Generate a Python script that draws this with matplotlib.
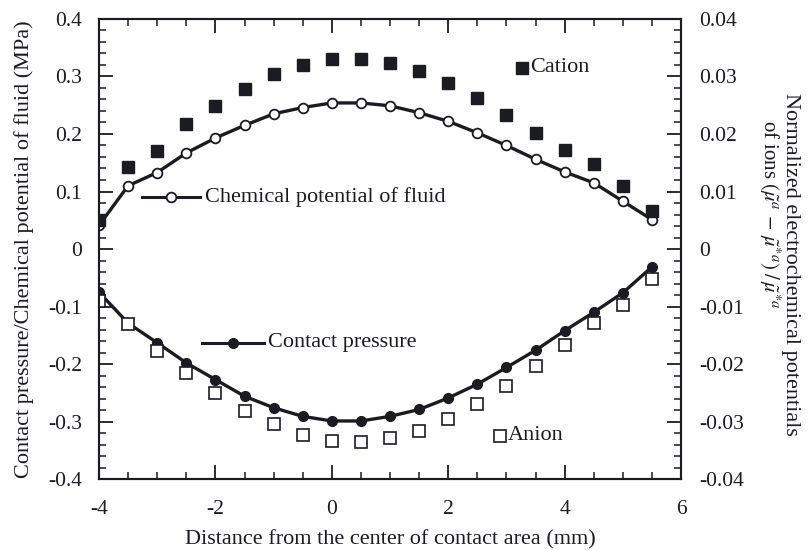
import numpy as np
import matplotlib
matplotlib.use("Agg")
import matplotlib.pyplot as plt
from matplotlib.ticker import MultipleLocator, FixedLocator

plt.rcParams["font.family"] = ["Liberation Serif", "DejaVu Serif"]
plt.rcParams["mathtext.fontset"] = "stix"
plt.rcParams["axes.unicode_minus"] = False

# -----------------------------
# Data
# -----------------------------
x = [-4, -3.5, -3, -2.5, -2, -1.5, -1, -0.5, 0, 0.5,
     1, 1.5, 2, 2.5, 3, 3.5, 4, 4.5, 5, 5.5]

# left axis (MPa)
chem_potential = [0.041, 0.110, 0.133, 0.167, 0.193, 0.215, 0.235, 0.246, 0.254, 0.254,
                  0.249, 0.237, 0.222, 0.202, 0.180, 0.156, 0.134, 0.115, 0.083, 0.051]
contact_pressure = [-0.075, -0.129, -0.163, -0.198, -0.227, -0.256, -0.276, -0.291, -0.299, -0.299,
                    -0.291, -0.279, -0.259, -0.235, -0.206, -0.176, -0.142, -0.110, -0.076, -0.031]

# right axis (normalized)
cation = [0.0051, 0.0142, 0.0170, 0.0217, 0.0249, 0.0278, 0.0305, 0.0320, 0.0330, 0.0330,
          0.0324, 0.0309, 0.0289, 0.0263, 0.0233, 0.0202, 0.0173, 0.0147, 0.0109, 0.0066]
anion = [-0.0091, -0.0130, -0.0178, -0.0215, -0.0250, -0.0282, -0.0305, -0.0324, -0.0333, -0.0335,
         -0.0328, -0.0316, -0.0295, -0.0269, -0.0238, -0.0203, -0.0167, -0.0128, -0.0097, -0.0052]

left_ticks = [0.4, 0.3, 0.2, 0.1, 0, -0.1, -0.2, -0.3, -0.4]
left_labels = ["0.4", "0.3", "0.2", "0.1", "0", "-0.1", "-0.2", "-0.3", "-0.4"]
right_ticks = [0.04, 0.03, 0.02, 0.01, 0, -0.01, -0.02, -0.03, -0.04]
right_labels = ["0.04", "0.03", "0.02", "0.01", "0", "-0.01", "-0.02", "-0.03", "-0.04"]
x_ticks = [-4, -2, 0, 2, 4, 6]
x_labels = ["-4", "-2", "0", "2", "4", "6"]

ink = "#1b1b22"
fs = 16

# -----------------------------
# Plot
# -----------------------------
fig = plt.figure(figsize=(8.08, 5.5), dpi=100)
ax = fig.add_axes([0.1225, 0.129, 0.7205, 0.8365])
ax2 = ax.twinx()

ax.plot(x, chem_potential, "-", color=ink, lw=2.4, marker="o", ms=7,
        mfc="white", mec=ink, mew=1.3, zorder=3)
ax.plot(x, contact_pressure, "-", color=ink, lw=2.4, marker="o", ms=7,
        mfc=ink, mec=ink, zorder=3)

ax2.plot(x, cation, ls="none", marker="s", ms=8, mfc=ink, mec=ink)
ax2.plot(x, anion, ls="none", marker="s", ms=8, mfc="white", mec=ink, mew=1.2)

ax.set_xlim(-4, 6)
ax.set_ylim(-0.4, 0.4)
ax2.set_ylim(-0.04, 0.04)

ax.xaxis.set_major_locator(FixedLocator(x_ticks))
ax.set_xticklabels(x_labels)
ax.xaxis.set_minor_locator(MultipleLocator(0.5))
ax.yaxis.set_major_locator(FixedLocator(left_ticks))
ax.set_yticklabels(left_labels)
ax.yaxis.set_minor_locator(MultipleLocator(0.02))
ax2.yaxis.set_major_locator(FixedLocator(right_ticks))
ax2.set_yticklabels(right_labels)
ax2.yaxis.set_minor_locator(MultipleLocator(0.002))

ax.tick_params(which="both", direction="in", top=True, colors=ink, labelsize=fs - 0.5)
ax.tick_params(which="major", length=10, width=1.3)
ax.tick_params(which="minor", length=5, width=1.1)
ax.tick_params(axis="y", which="both", pad=12)
ax.tick_params(axis="x", which="both", pad=15)
ax2.tick_params(which="both", direction="in", colors=ink, labelsize=fs - 0.5, pad=13)
ax2.tick_params(which="major", length=10, width=1.3)
ax2.tick_params(which="minor", length=5, width=1.1)

for a in (ax, ax2):
    for s in a.spines.values():
        s.set_linewidth(1.5)
        s.set_color(ink)

ax.set_xlabel("Distance from the center of contact area (mm)", fontsize=fs,
              color=ink, labelpad=8)
ax.set_ylabel("Contact pressure/Chemical potential of fluid (MPa)", fontsize=fs,
              color=ink, labelpad=10)

fig.text(0.978, 0.52, "Normalized electrochemical potentials", rotation=270,
         fontsize=fs, color=ink, ha="center", va="center")
fig.text(0.953, 0.61, r"of ions $(\tilde{\mu}^{a}\,-\,\tilde{\mu}^{*a})\;/\,\tilde{\mu}^{*a}$",
         rotation=270, fontsize=fs - 1, color=ink, ha="center", va="center")

# in-plot labels
ax.plot([-3.26, -2.26], [0.091, 0.091], "-", color=ink, lw=2.2)
ax.plot([-2.76], [0.091], "o", ms=7, mfc="white", mec=ink, mew=1.3)
ax.text(-2.18, 0.091, "Chemical potential of fluid", fontsize=fs, color=ink,
        va="center", ha="left")

ax.plot([-2.23, -1.17], [-0.163, -0.163], "-", color=ink, lw=2.2)
ax.plot([-1.70], [-0.163], "o", ms=7, mfc=ink, mec=ink)
ax.text(-1.10, -0.163, "Contact pressure", fontsize=fs, color=ink,
        va="center", ha="left")

ax.plot([3.27], [0.315], "s", ms=8, mfc=ink, mec=ink)
ax.text(3.40, 0.315, "Cation", fontsize=fs, color=ink, va="center", ha="left")

ax.plot([2.89], [-0.325], "s", ms=8, mfc="white", mec=ink, mew=1.2)
ax.text(3.03, -0.325, "Anion", fontsize=fs, color=ink, va="center", ha="left")

plt.savefig("out.png", dpi=100)
